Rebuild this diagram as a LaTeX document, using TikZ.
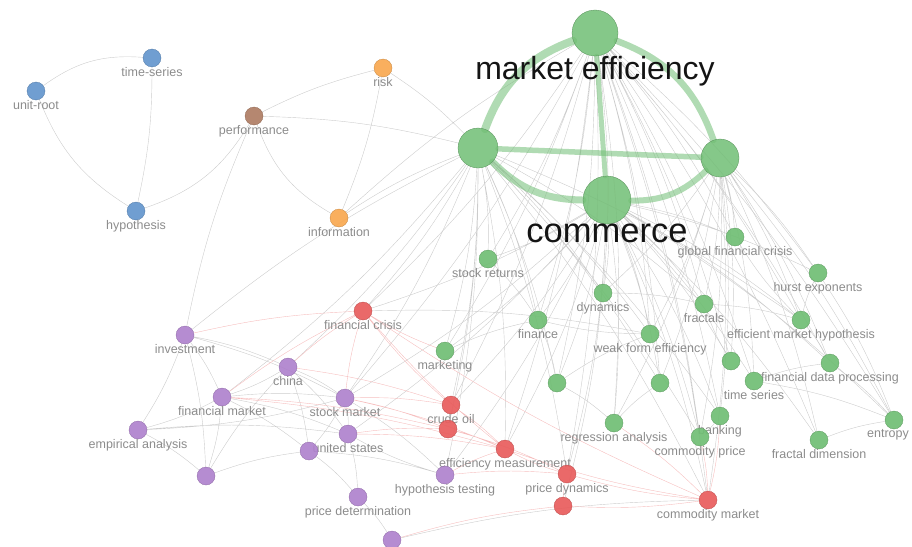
\documentclass[tikz,border=0pt]{standalone}
\usepackage{fontspec}
\setmainfont{Liberation Sans}
\usetikzlibrary{backgrounds}

\definecolor{vgreen}{RGB}{112,190,116}
\definecolor{vred}{RGB}{232,92,92}
\definecolor{vpurple}{RGB}{175,130,205}
\definecolor{vblue}{RGB}{100,150,205}
\definecolor{vorange}{RGB}{248,168,80}
\definecolor{vbrown}{RGB}{175,125,100}

\tikzset{
  kw/.style={circle, inner sep=0pt, minimum size=18pt, fill=#1, fill opacity=0.92, text opacity=1, draw=#1!80!black, line width=0.3pt},
  hub/.style={circle, inner sep=0pt, fill=vgreen, fill opacity=0.85, text opacity=1, draw=vgreen!75!black, line width=0.3pt},
  lbl/.style={font=\fontsize{12.5}{12.5}\selectfont, text=black!45, inner sep=0pt, fill opacity=1},
  biglbl/.style={inner sep=0pt, text=black!92, fill opacity=1},
  lnk/.style={draw=black!20, line width=0.4pt, bend left=6},
  redlnk/.style={draw=vred!40, line width=0.4pt, bend right=5},
  bond/.style={draw=vgreen, draw opacity=0.55, line cap=round},
}

\begin{document}
\begin{tikzpicture}[x=1pt,y=-1pt]
  \useasboundingbox (0,0) rectangle (912,546);
  % big green keywords
  \node[hub, minimum size=46pt, label={[biglbl, font=\fontsize{32}{32}\selectfont]below:market efficiency}] (me) at (595,33) {};
  \node[hub, minimum size=40pt] (gl) at (478,148) {};
  \node[hub, minimum size=38pt] (gr) at (720,158) {};
  \node[hub, minimum size=48pt, label={[biglbl, font=\fontsize{34.5}{34.5}\selectfont]below:commerce}] (cm) at (607,200) {};
  % blue, brown, orange
  \node[kw=vblue, label={[lbl]below:time-series}] (ts) at (152,58) {};
  \node[kw=vblue, label={[lbl]below:unit-root}] (ur) at (36,91) {};
  \node[kw=vblue, label={[lbl]below:hypothesis}] (hy) at (136,211) {};
  \node[kw=vbrown, label={[lbl]below:performance}] (pf) at (254,116) {};
  \node[kw=vorange, label={[lbl]below:risk}] (rk) at (383,68) {};
  \node[kw=vorange, label={[lbl]below:information}] (inf) at (339,218) {};
  % green
  \node[kw=vgreen, label={[lbl]below:global financial crisis}] (gfc) at (735,237) {};
  \node[kw=vgreen, label={[lbl]below:stock returns}] (sr) at (488,259) {};
  \node[kw=vgreen, label={[lbl]below:hurst exponents}] (hu) at (818,273) {};
  \node[kw=vgreen, label={[lbl]below:dynamics}] (dy) at (603,293) {};
  \node[kw=vgreen, label={[lbl]below:fractals}] (fr) at (704,304) {};
  \node[kw=vgreen, label={[lbl]below:finance}] (fi) at (538,320) {};
  \node[kw=vgreen, label={[lbl]below:efficient market hypothesis}] (emh) at (801,320) {};
  \node[kw=vgreen, label={[lbl]below:weak form efficiency}] (wfe) at (650,334) {};
  \node[kw=vgreen, label={[lbl]below:marketing}] (mk) at (445,351) {};
  \node[kw=vgreen] (g1) at (557,383) {};
  \node[kw=vgreen] (g2) at (660,383) {};
  \node[kw=vgreen] (g3) at (731,361) {};
  \node[kw=vgreen, label={[lbl]below:financial data processing}] (fdp) at (830,363) {};
  \node[kw=vgreen, label={[lbl]below:time series}] (tser) at (754,381) {};
  \node[kw=vgreen, label={[lbl]below:regression analysis}] (ra) at (614,423) {};
  \node[kw=vgreen, label={[lbl]below:banking}] (bk) at (720,416) {};
  \node[kw=vgreen, label={[lbl]below:commodity price}] (cp) at (700,437) {};
  \node[kw=vgreen, label={[lbl]below:fractal dimension}] (fd) at (819,440) {};
  \node[kw=vgreen, label={[lbl, xshift=-6pt]below:entropy}] (en) at (894,420) {};
  % red
  \node[kw=vred, label={[lbl]below:financial crisis}] (fc) at (363,311) {};
  \node[kw=vred, label={[lbl]below:crude oil}] (co1) at (451,405) {};
  \node[kw=vred] (co) at (448,429) {};
  \node[kw=vred, label={[lbl]below:efficiency measurement}] (em) at (505,449) {};
  \node[kw=vred, label={[lbl]below:price dynamics}] (pd) at (567,474) {};
  \node[kw=vred] (r5) at (563,506) {};
  \node[kw=vred, label={[lbl]below:commodity market}] (cmk) at (708,500) {};
  % purple
  \node[kw=vpurple, label={[lbl]below:investment}] (inv) at (185,335) {};
  \node[kw=vpurple, label={[lbl]below:china}] (ch) at (288,367) {};
  \node[kw=vpurple, label={[lbl]below:financial market}] (fm) at (222,397) {};
  \node[kw=vpurple, label={[lbl]below:stock market}] (sm) at (345,398) {};
  \node[kw=vpurple, label={[lbl]below:empirical analysis}] (ea) at (138,430) {};
  \node[kw=vpurple, label={[lbl]below:united states}] (us) at (348,434) {};
  \node[kw=vpurple] (p1) at (309,451) {};
  \node[kw=vpurple] (p2) at (206,476) {};
  \node[kw=vpurple, label={[lbl]below:hypothesis testing}] (ht) at (445,475) {};
  \node[kw=vpurple, label={[lbl]below:price determination}] (pdt) at (358,497) {};
  \node[kw=vpurple] (p3) at (392,540) {};

  \begin{scope}[on background layer]
    % faint links
    \draw[lnk] (ur) to[bend left=20] (ts) (ur) to[bend right=18] (hy) (ts) to (hy) (hy) to[bend right=20] (pf)
      (pf) to (rk) (pf) to[bend right=20] (inf) (rk) to (inf) (pf) to (gl) (rk) to (gl) (inf) to (gl) (inf) to (me)
      (inv) to (gl) (inv) to (pf);
    \draw[lnk] (me) to (sr) (me) to (dy) (me) to (fi) (me) to (wfe) (me) to (fr) (me) to (emh) (me) to (hu)
      (me) to (gfc) (me) to (mk) (me) to (g1) (me) to (g2) (me) to (g3) (me) to (fdp) (me) to (tser) (me) to (ra)
      (me) to (bk) (me) to (cp) (me) to (fd) (me) to (en) (me) to (fc) (me) to (co1) (me) to (em) (me) to (pd)
      (me) to (cmk) (me) to (sm);
    \draw[lnk] (gl) to (sr) (gl) to (dy) (gl) to (fi) (gl) to (wfe) (gl) to (fr) (gl) to (emh) (gl) to (mk)
      (gl) to (g1) (gl) to (g2) (gl) to (fc) (gl) to (co1) (gl) to (co) (gl) to (em) (gl) to (ht) (gl) to (ch)
      (gl) to (sm) (gl) to (fm) (gl) to (cmk) (gl) to (pd) (gl) to (bk) (gl) to (cp);
    \draw[lnk] (gr) to (gfc) (gr) to (hu) (gr) to (emh) (gr) to (fdp) (gr) to (en) (gr) to (fd) (gr) to (tser)
      (gr) to (g3) (gr) to (fr) (gr) to (bk) (gr) to (cp) (gr) to (ra) (gr) to (wfe) (gr) to (dy) (gr) to (cmk)
      (gr) to (g2);
    \draw[lnk] (cm) to (sr) (cm) to (dy) (cm) to (fi) (cm) to (wfe) (cm) to (fr) (cm) to (emh) (cm) to (hu)
      (cm) to (gfc) (cm) to (fdp) (cm) to (en) (cm) to (fd) (cm) to (tser) (cm) to (g3) (cm) to (g2) (cm) to (g1)
      (cm) to (ra) (cm) to (bk) (cm) to (cp) (cm) to (mk) (cm) to (fc) (cm) to (co1) (cm) to (em) (cm) to (pd)
      (cm) to (r5) (cm) to (cmk) (cm) to (ht) (cm) to (us) (cm) to (sm);
    \draw[lnk] (sr) to (fi) (dy) to (fr) (fr) to (emh) (emh) to (hu) (emh) to (fdp) (fdp) to (en) (fd) to (en)
      (tser) to (fdp) (g3) to (fr) (wfe) to (fi) (ra) to (g2) (bk) to (cp) (g1) to (ra) (fi) to (g1)
      (emh) to (gfc) (hu) to (en) (tser) to (en) (g1) to (wfe) (fc) to (wfe) (mk) to (fi);
    \draw[lnk] (inv) to (ch) (inv) to (fm) (inv) to (sm) (inv) to (ea) (inv) to (p2) (ch) to (sm) (ch) to (fm)
      (ch) to (us) (ch) to (p1) (fm) to (sm) (fm) to (ea) (fm) to (p1) (fm) to (p2) (fm) to (us) (sm) to (us)
      (sm) to (ea) (sm) to (p1) (sm) to (ht) (ea) to (p2) (ea) to (us) (p1) to (pdt) (p1) to (ht) (us) to (pdt)
      (pdt) to (p3) (p2) to (p1) (p2) to (ch) (ht) to (us) (p3) to (cmk);
    \draw[redlnk] (fc) to (inv) (fc) to (ch) (fc) to (sm) (fc) to (fm) (fc) to (co1) (fc) to (em) (fc) to (cmk)
      (fc) to (mk) (em) to (co) (em) to (co1) (em) to (pd) (em) to (cmk) (em) to (sm) (em) to (us) (em) to (ht)
      (em) to (fm) (pd) to (ht) (pd) to (cmk) (pd) to (r5) (pd) to (co) (r5) to (p3) (r5) to (cmk) (co) to (sm)
      (co) to (fm) (co) to (us) (co1) to (sm) (co1) to (ch) (cmk) to (cp) (cmk) to (bk) (cmk) to (ra);
    % strong links between the main keywords
    \draw[bond, line width=8pt] (me) to[bend right=25] (gl);
    \draw[bond, line width=6.5pt] (me) to[bend left=25] (gr);
    \draw[bond, line width=7pt] (gl) to[bend right=22] (cm);
    \draw[bond, line width=6pt] (cm) to[bend right=22] (gr);
    \draw[bond, line width=5pt] (me) -- (cm);
    \draw[bond, line width=5.5pt] (gl) -- (gr);
  \end{scope}
\end{tikzpicture}
\end{document}
